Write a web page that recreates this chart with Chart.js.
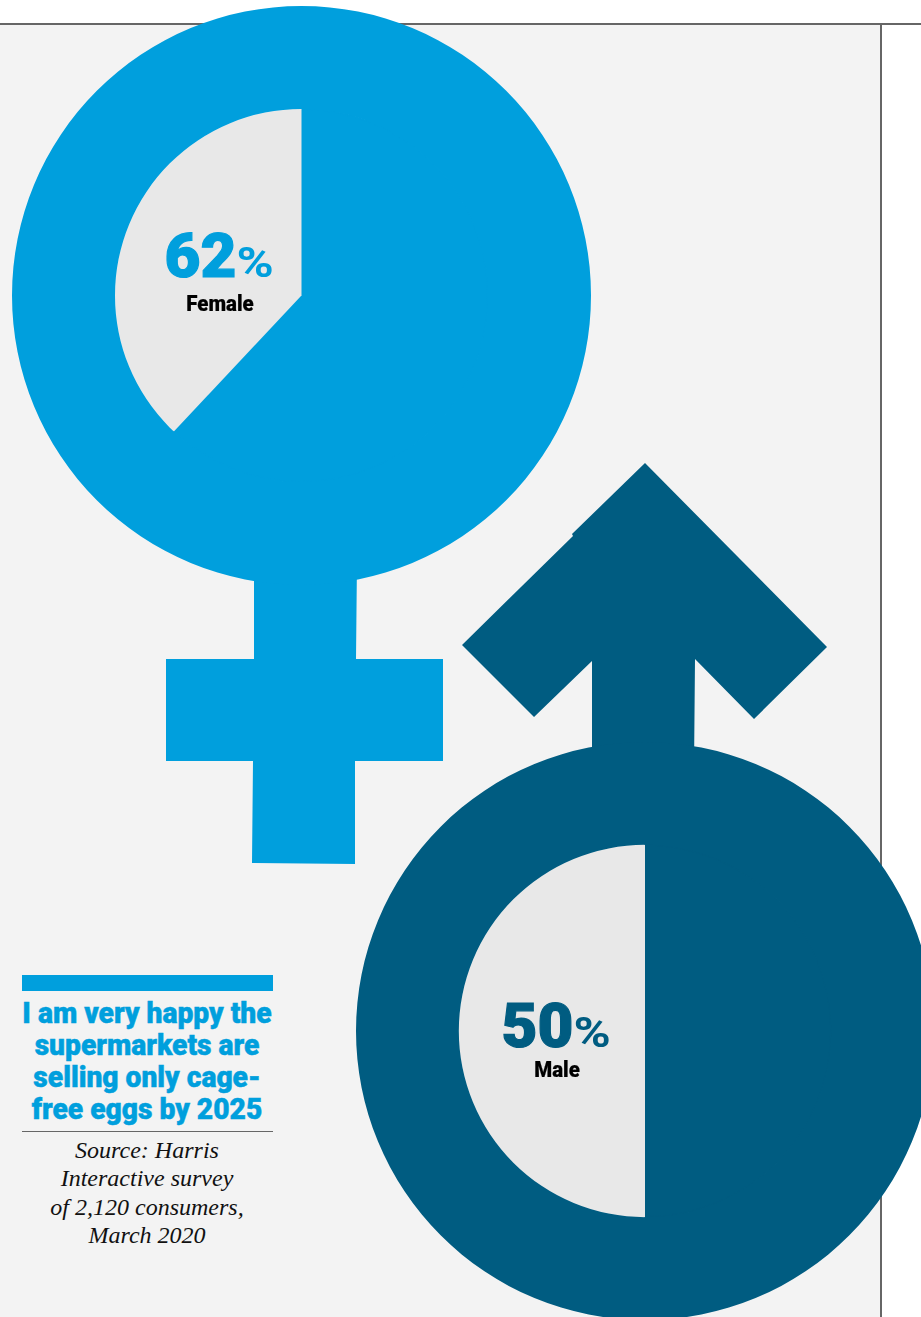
<!DOCTYPE html>
<html>
<head>
<meta charset="utf-8">
<title>Cage-free eggs survey</title>
<script src="https://cdn.jsdelivr.net/npm/chart.js@4"></script>
<style>
  html, body { margin: 0; padding: 0; background: #fff; }
  #page { position: relative; width: 921px; height: 1317px; overflow: hidden; background: #fff; }
  #panel { position: absolute; left: 0; top: 23px; width: 880px; height: 1294px; background: #f3f3f3; }
  .rule { position: absolute; background: #666; }
  #glyphs { position: absolute; left: 0; top: 0; }
  canvas { position: absolute; }
  .txt { position: absolute; white-space: nowrap; text-align: center; transform: translateX(-50%); }
  .num { font-family: Roboto, sans-serif; font-weight: 900; font-size: 62px; line-height: 62px; -webkit-text-stroke: 1.2px currentColor; }
  .num span { display: inline-block; font-weight: 700; font-size: 42px; -webkit-text-stroke: 0; transform: scaleX(1.2); transform-origin: left; margin: 0 6px 0 0; }
  .lbl { font-family: Roboto, sans-serif; font-weight: 900; font-size: 22px; line-height: 24px; color: #000; transform: translateX(-50%) scaleX(.93); -webkit-text-stroke: .2px #000; }
  #bar { position: absolute; left: 22px; top: 975px; width: 251px; height: 16px; background: #009fdd; }
  .head { font-family: Roboto, sans-serif; font-weight: 900; font-size: 30px; line-height: 32px; color: #009fdd; transform: translateX(-50%) scaleX(.94); -webkit-text-stroke: .5px #009fdd; }
  .src { font-family: "Liberation Serif", serif; font-style: italic; font-size: 24px; line-height: 28.5px; color: #111; }
</style>
</head>
<body>
<div id="page">
  <div id="panel"></div>
  <div class="rule" style="left:0;top:23px;width:921px;height:1.5px"></div>
  <div class="rule" style="left:880px;top:23px;width:1.5px;height:1294px"></div>

  <svg id="glyphs" width="921" height="1317">
    <polygon fill="#009fdd" points="254,560 357,560 356,659 443,659 443,761 355,761 355,864 252,863 253,761 166,761 166,659 254,659"/>
    <polygon fill="#005c81" points="645,463 827,647 754,719 695,659 694,770 592,770 592,661 534,717 462,645 573,536 572,534"/>
  </svg>

  <canvas id="female" width="579" height="579" style="left:12px;top:6px;width:579px;height:579px"></canvas>
  <canvas id="male" width="578" height="578" style="left:356px;top:742px;width:578px;height:578px"></canvas>

  <div class="txt num" style="left:219px;top:225px;color:#009fdd">62<span>%</span></div>
  <div class="txt lbl" style="left:220px;top:292px">Female</div>
  <div class="txt num" style="left:556px;top:995px;color:#005c81">50<span>%</span></div>
  <div class="txt lbl" style="left:557px;top:1058px">Male</div>

  <div id="bar"></div>
  <div class="txt head" style="left:147px;top:997px">I am very happy the</div>
  <div class="txt head" style="left:147px;top:1029px">supermarkets are</div>
  <div class="txt head" style="left:147px;top:1061px">selling only cage-</div>
  <div class="txt head" style="left:147px;top:1093px">free eggs by 2025</div>
  <div class="rule" style="left:22px;top:1131px;width:251px;height:1px"></div>
  <div class="txt src" style="left:147px;top:1136px">Source: Harris</div>
  <div class="txt src" style="left:147px;top:1164px">Interactive survey</div>
  <div class="txt src" style="left:147px;top:1193px">of 2,120 consumers,</div>
  <div class="txt src" style="left:147px;top:1221px">March 2020</div>
</div>

<script>
// share of respondents who agree, rest is the pale wedge
const categories = ['Agree', 'Other'];
const femaleValues = [62, 38];
const maleValues = [50, 50];
const ringValues = [100];

function createGenderPie(canvasId, values, color) {
  return new Chart(document.getElementById(canvasId), {
    type: 'doughnut',
    data: {
      labels: categories,
      datasets: [
        // outer ring of the symbol
        { data: ringValues, backgroundColor: [color], borderWidth: 0, weight: 103 },
        // border on the coloured slice hides the seam against the ring
        { data: values, backgroundColor: [color, '#e8e8e8'], borderColor: [color, '#e8e8e8'], borderWidth: [2, 0], weight: 186.5 },
      ],
    },
    options: {
      responsive: false,
      cutout: 0,
      animation: false,
      layout: { padding: 0 },
      plugins: { legend: { display: false }, tooltip: { enabled: false } },
    },
  });
}

createGenderPie('female', femaleValues, '#009fdd');
createGenderPie('male', maleValues, '#005c81');
</script>
</body>
</html>
